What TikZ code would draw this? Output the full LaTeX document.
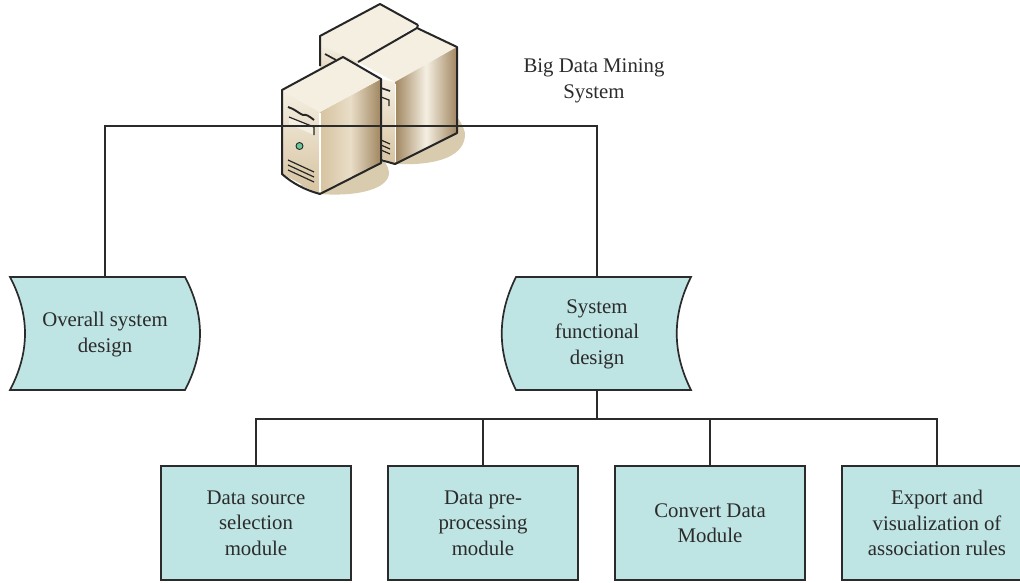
\documentclass[tikz,border=0pt]{standalone}
\usepackage{fontspec}
\setmainfont{Liberation Serif}
\definecolor{boxfill}{HTML}{BEE4E3}
\definecolor{ink}{HTML}{2B2B2B}
\definecolor{shadowtan}{HTML}{D8CBAE}
\definecolor{tanL}{HTML}{F5EFE2}
\definecolor{tanM}{HTML}{D6C3A0}
\definecolor{tanD}{HTML}{A08660}
\tikzset{
 box/.style={draw=ink,fill=boxfill,line width=1.7pt,minimum width=190pt,minimum height=114pt,align=center,inner sep=0pt,text=ink,font=\fontsize{20.8}{25.5}\selectfont},
 curvedbox/.style={minimum width=175pt,minimum height=113pt,align=center,inner sep=0pt,text=ink,font=\fontsize{20.8}{25.5}\selectfont},
 curveline/.style={draw=ink,fill=boxfill,line width=1.7pt},
 link/.style={draw=ink,line width=1.7pt},
 srv/.style={draw=black!85,line width=2pt,line join=round},
 detail/.style={draw=black!85,line width=1.2pt},
 lab/.style={align=center,text=ink,inner sep=0pt,font=\fontsize{20.8}{25.5}\selectfont}
}
\begin{document}
\begin{tikzpicture}[x=1pt,y=-1pt]
\useasboundingbox (0,0) rectangle (1020,582);
% server shadows
\fill[shadowtan] (395,164) .. controls (440,166) and (466,155) .. (465,133) .. controls (462,122) and (458,118) .. (452,112) -- (380,150) -- cycle;
\fill[shadowtan] (320,194) .. controls (360,197) and (390,188) .. (389,172) .. controls (388,165) and (384,160) .. (378,155) -- (300,185) -- cycle;
% rear server
\fill[tanL] (320,36) -- (380,4) -- (418,25) -- (358,62) -- (345,70) -- (320,70) -- cycle;
\shade[top color=tanL,bottom color=tanM] (320,45) -- (358,62) -- (358,90) -- (320,90) -- cycle;
\draw[srv] (320,66) -- (320,36) -- (380,4) -- (418,25);
\draw[detail,line width=1.7pt] (325,54) -- (336,60);
% middle server
\fill[tanL] (358,62) -- (417,28) -- (457,47) -- (395,82) -- cycle;
\shade[left color=tanD,right color=tanD,middle color=tanL] (395,82) -- (457,47) -- (457,133) -- (395,164) -- cycle;
\shade[top color=tanL,bottom color=tanM] (381,79) -- (395,82) -- (395,164) -- (381,158) -- cycle;
\draw[srv] (358,62) -- (417,28) -- (457,47) -- (457,133) -- (395,164) -- (381,160);
\draw[srv] (418,25) -- (417,28);
\draw[detail,line width=1.7pt] (381,88) -- (390,91);
\draw[detail] (381,140) -- (390,144) (381,145) -- (390,149) (381,150) -- (390,154);
\draw[detail] (381,97) -- (389,100) -- (389,106);
\draw[white,line width=1pt] (395.5,84) -- (395.5,162);
% front server
\shade[top color=tanL,bottom color=tanM] (282,90) -- (320,112) -- (320,194) -- (282,174) -- cycle;
\shade[left color=tanM,right color=tanD,middle color=tanL!60!tanM] (320,112) -- (381,79) -- (381,163) -- (320,194) -- cycle;
\fill[tanL] (282,90) -- (343,57) -- (381,79) -- (320,112) -- cycle;
\draw[srv] (282,90) -- (343,57) -- (381,79) -- (381,163) -- (320,194) .. controls (305,190) and (292,183) .. (282,174) -- cycle;
\draw[white,line width=1.2pt] (320,113) -- (320,192);
\fill[tanL] (289,117) -- (314,127) -- (314,135) -- (289,124) -- cycle;
\draw[detail,line width=1.9pt] (288,107) .. controls (295,109) and (298,113) .. (303,115) .. controls (306,114) and (309,116) .. (314,120);
\draw[detail] (289,117) -- (314,127) -- (314,135);
\fill[teal!70!green!60!white,draw=black!85,line width=.9pt] (299.5,146) circle (3.5);
\draw[detail] (288,160) -- (314,172) (288,165) -- (314,177) (288,170) -- (314,182);
% curved shapes
\draw[curveline] (10,277) -- (185,277) .. controls (205,315) and (205,352) .. (185,390) -- (10,390) .. controls (30,352) and (30,315) .. (10,277) -- cycle;
\draw[curveline] (691,277) -- (516,277) .. controls (497,315) and (497,352) .. (516,390) -- (691,390) .. controls (672,352) and (672,315) .. (691,277) -- cycle;
% labels and boxes
\node[lab] (title) at (594,81) {Big Data Mining\\System};
\node[curvedbox] (overall) at (105,334.5) {Overall system\\design};
\node[curvedbox] (functional) at (597,334) {System\\functional\\design};
\node[box] (source) at (256,523) {Data source\\selection\\module};
\node[box] (prep) at (483,523) {Data pre-\\processing\\module};
\node[box] (convert) at (710,523) {Convert Data\\Module};
\node[box] (export) at (937,523) {Export and\\visualization of\\association rules};
\coordinate (topbar) at (351,126);
\coordinate (midbar) at (597,419);
% connectors
\draw[link] (overall.north) |- (topbar) -| (functional.north);
\draw[link] (functional.south) -- (midbar);
\draw[link] (source.north) |- (midbar) (export.north) |- (midbar);
\draw[link] (prep.north) -- (prep.north |- midbar);
\draw[link] (convert.north) -- (convert.north |- midbar);
\end{tikzpicture}
\end{document}
